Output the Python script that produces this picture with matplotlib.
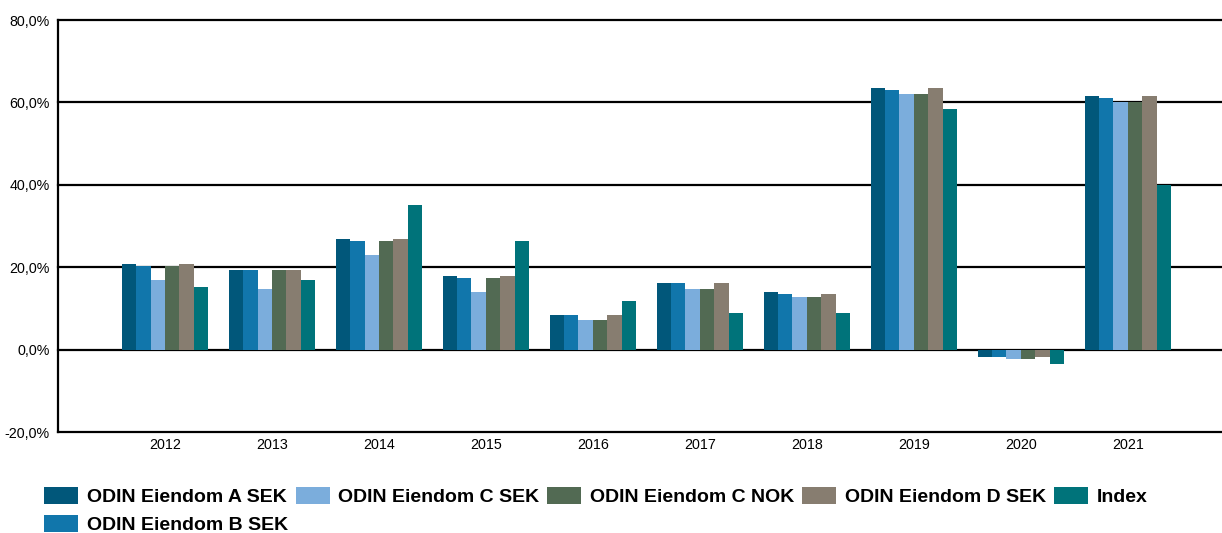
import matplotlib
matplotlib.use("Agg")
import matplotlib.pyplot as plt
import numpy as np
from matplotlib import font_manager

years = ["2012", "2013", "2014", "2015", "2016", "2017", "2018", "2019", "2020", "2021"]
series_names = ["ODIN Eiendom A SEK", "ODIN Eiendom B SEK", "ODIN Eiendom C SEK",
                "ODIN Eiendom C NOK", "ODIN Eiendom D SEK", "Index"]
a_sek = [20.8, 19.2, 26.8, 17.8, 8.5, 16.1, 14.1, 63.6, -1.9, 61.6]
b_sek = [20.3, 19.2, 26.3, 17.3, 8.5, 16.1, 13.6, 63.1, -1.9, 61.1]
c_sek = [17.0, 14.6, 22.9, 14.1, 7.1, 14.6, 12.7, 62.1, -2.4, 60.2]
c_nok = [20.3, 19.2, 26.3, 17.3, 7.1, 14.6, 12.7, 62.1, -2.4, 60.2]
d_sek = [20.8, 19.2, 26.8, 17.8, 8.5, 16.1, 13.6, 63.6, -1.9, 61.6]
index = [15.1, 17.0, 35.1, 26.3, 11.9, 9.0, 9.0, 58.5, -3.4, 39.9]
yticks = [-20, 0, 20, 40, 60, 80]
ytick_labels = ["-20,0%", "0,0%", "20,0%", "40,0%", "60,0%", "80,0%"]

colors = ["#01577A", "#1176AB", "#7BADDC", "#526A53", "#877D70", "#00737A"]

avail = {f.name for f in font_manager.fontManager.ttflist}
tick_font = ["Liberation Sans", "DejaVu Sans"]
leg_font = ["Liberation Sans Narrow", "Liberation Sans", "DejaVu Sans"] if "Liberation Sans Narrow" in avail else ["Liberation Sans", "DejaVu Sans"]

fig = plt.figure(figsize=(12.22, 5.33), dpi=100)
ax = fig.add_axes([58/1222, 1-432/533, 1-58/1222, (432-20)/533])

data = [a_sek, b_sek, c_sek, c_nok, d_sek, index]
x = np.arange(len(years))
bw = 0.135
handles = []
for i, (vals, col, name) in enumerate(zip(data, colors, series_names)):
    h = ax.bar(x + (i - 2.5) * bw, vals, width=bw, color=col, label=name, zorder=3, linewidth=0)
    handles.append(h)

ax.set_xlim(-1.0, 9.88)
ax.set_ylim(-20, 80)
ax.set_yticks(yticks)
ax.set_yticklabels(ytick_labels, fontfamily=tick_font, fontsize=10.3)
ax.set_xticks(x)
ax.set_xticklabels(years, fontfamily=tick_font, fontsize=10.3)
ax.tick_params(axis="both", length=0, pad=6)
ax.tick_params(axis="x", pad=4)
for yv in [0, 20, 40, 60, 80]:
    ax.axhline(yv, color="black", lw=1.6, zorder=2, clip_on=False)
for s in ["top", "right"]:
    ax.spines[s].set_visible(False)
ax.spines["left"].set_linewidth(1.6)
ax.spines["bottom"].set_linewidth(1.6)

leg = fig.legend(handles=handles, loc="upper left", bbox_to_anchor=(44/1222, 1-487/533),
                 ncol=5, frameon=False, borderpad=0, borderaxespad=0,
                 handlelength=1.75, handleheight=0.95, handletextpad=0.45,
                 columnspacing=0.4, labelspacing=0.45,
                 prop={"family": leg_font, "size": 14, "weight": "bold"})

fig.savefig("out.png", dpi=100)
